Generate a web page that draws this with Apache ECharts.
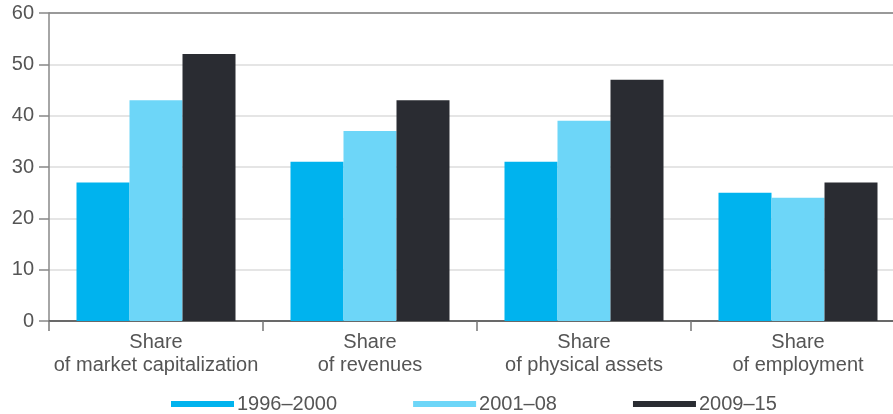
<!DOCTYPE html>
<html><head><meta charset="utf-8">
<script src="https://cdn.jsdelivr.net/npm/echarts@6/dist/echarts.min.js"></script>
<style>html,body{margin:0;padding:0;background:#fff;overflow:hidden;width:893px;height:414px}#c{width:910px;height:414px}</style>
</head><body><div id="c"></div>
<script>
const categories = ["Share\nof market capitalization", "Share\nof revenues", "Share\nof physical assets", "Share\nof employment"];
const seriesNames = ["1996–2000", "2001–08", "2009–15"];
const s1996 = [27, 31, 31, 25];
const s2001 = [43, 37, 39, 24];
const s2009 = [52, 43, 47, 27];
const yTicks = [0, 10, 20, 30, 40, 50, 60];
const colors = ["#00b3ee", "#6dd6f8", "#2a2c32"];

const chart = echarts.init(document.getElementById('c'), null, {renderer: 'canvas'});
const font = "'Liberation Sans', Arial, sans-serif";
chart.setOption({
  animation: false,
  grid: {left: 49, top: 13, width: 856, bottom: 93, containLabel: false},
  legend: {
    left: 166, top: 389,
    icon: 'rect', itemWidth: 63, itemHeight: 6, itemGap: 76,
    textStyle: {fontFamily: font, fontSize: 20, color: '#555', padding: [0, 0, 0, -2]},
    data: seriesNames
  },
  xAxis: {
    type: 'category', data: categories,
    axisLine: {lineStyle: {color: '#555', width: 1.5}},
    axisTick: {show: true, length: 10, lineStyle: {color: '#777', width: 1.5}},
    axisLabel: {fontFamily: font, fontSize: 20, color: '#555', lineHeight: 23, margin: 10, interval: 0}
  },
  yAxis: {
    type: 'value', min: yTicks[0], max: yTicks[yTicks.length - 1], interval: 10,
    axisLine: {show: true, lineStyle: {color: '#888', width: 1.5}},
    axisTick: {show: true, length: 10, lineStyle: {color: '#888', width: 1.5}},
    axisLabel: {fontFamily: font, fontSize: 20, color: '#555', margin: 15},
    splitLine: {show: true, lineStyle: {color: ['#888', '#dcdcdc', '#dcdcdc', '#dcdcdc', '#dcdcdc', '#dcdcdc', '#777'], width: 1.5}}
  },
  series: [s1996, s2001, s2009].map((d, i) => ({
    name: seriesNames[i], type: 'bar', data: d,
    barWidth: 53, barGap: '0%',
    itemStyle: {color: colors[i]}
  }))
});
</script></body></html>
